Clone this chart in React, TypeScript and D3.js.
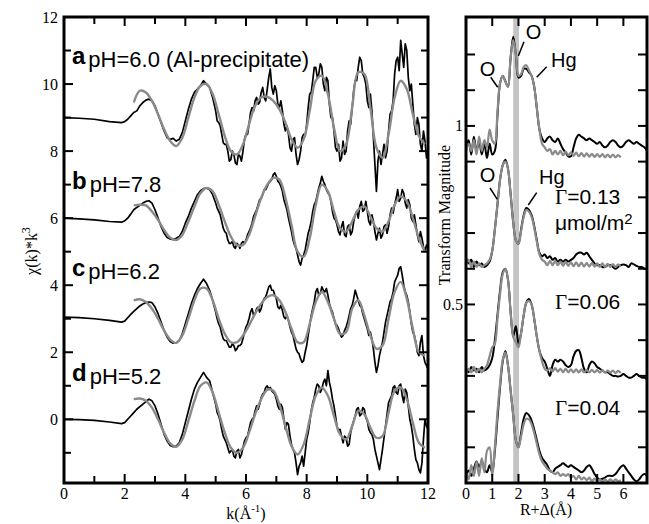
import React from 'react';
import * as d3 from 'd3';

// ---------- Left panel data: chi(k)*k^3 ----------
const kLead = [0, 0.5, 1.0, 1.5, 1.9];
const kBlack = kLead.concat(d3.range(20, 121).map((i) => i / 10));
const kMid = d3.range(0, 70).map((i) => +(5.05 + i * 0.1).toFixed(2));
const kFit = d3.range(0, 49).map((i) => +(2.3 + i * 0.2).toFixed(1));

const dataA = [9.0, 8.98, 8.95, 8.88, 8.85,
  8.88, 8.95, 9.05, 9.15, 9.2, 9.35, 9.45, 9.52, 9.55, 9.5,
  9.35, 9.1, 8.85, 8.6, 8.4, 8.35, 8.38, 8.3, 8.35, 8.55,
  8.9, 9.25, 9.55, 9.75, 9.85, 9.95, 10.1, 10.0, 9.9, 9.6,
  9.2, 8.85, 8.5, 8.2, 8.0, 7.75, 7.9, 7.6, 7.85, 8.0,
  8.5, 8.8, 9.3, 9.5, 9.4, 9.75, 9.6, 9.85, 10.45, 9.7,
  9.8, 9.3, 9.2, 8.6, 8.5, 8.0, 8.4, 7.6, 8.0, 8.5,
  8.8, 9.7, 10.1, 10.5, 10.3, 10.5, 9.8, 10.1, 9.0, 8.6,
  8.0, 7.7, 8.3, 8.0, 8.9, 9.3, 10.1, 10.5, 10.7, 10.2,
  9.5, 9.7, 8.4, 6.8, 8.0, 7.9, 7.8, 8.6, 9.2, 10.3,
  10.8, 11.3, 10.5, 11.0, 9.8, 9.4, 8.5, 8.8, 8.0, 8.3, 7.9];
const midA = [8.9, 8.75, 8.25, 8.2, 7.7, 8.0, 7.65, 7.9, 7.7, 8.35,
  8.5, 9.15, 9.2, 9.6, 9.45, 9.9, 9.5, 10.2, 9.9, 9.95,
  9.4, 9.5, 8.8, 8.75, 8.1, 8.35, 7.9, 7.75, 8.4, 8.45,
  9.3, 9.75, 10.5, 10.2, 10.6, 10.0, 10.2, 9.4, 9.0, 8.1,
  8.2, 7.8, 7.9, 8.6, 8.8, 9.8, 10.1, 10.8, 10.3, 10.0,
  9.3, 9.2, 7.6, 7.7, 7.6, 8.2, 8.0, 9.1, 9.5, 10.7,
  10.4, 10.9, 11.2, 10.2, 10.0, 8.8, 9.0, 8.2, 8.6, 7.8];
const dataB = [6.0, 5.98, 5.95, 5.9, 5.88,
  5.92, 6.0, 6.12, 6.25, 6.32, 6.38, 6.45, 6.5, 6.52, 6.45,
  6.25, 6.0, 5.75, 5.55, 5.42, 5.38, 5.36, 5.4, 5.45, 5.6,
  5.85, 6.05, 6.3, 6.5, 6.7, 6.82, 6.88, 6.9, 6.85, 6.7,
  6.45, 6.2, 5.9, 5.6, 5.35, 5.25, 5.15, 5.25, 5.1, 5.3,
  5.35, 5.6, 5.85, 6.15, 6.4, 6.6, 6.85, 6.95, 7.1, 7.3,
  7.25, 7.05, 6.8, 6.4, 6.0, 5.6, 5.2, 4.9, 4.6, 4.9,
  5.3, 5.7, 6.2, 6.5, 6.9, 7.25, 7.0, 6.75, 6.5, 6.0,
  5.8, 5.5, 5.9, 5.45, 5.8, 5.6, 6.1, 6.0, 6.5, 6.25,
  6.2, 5.8, 5.9, 5.35, 5.7, 5.5, 5.8, 5.75, 6.3, 6.4,
  6.85, 6.6, 6.75, 6.3, 6.4, 5.9, 5.8, 5.3, 5.4, 5.0, 5.1];
const midB = [6.3, 6.1, 5.7, 5.55, 5.25, 5.3, 5.1, 5.2, 5.25, 5.25,
  5.5, 5.7, 6.05, 6.25, 6.55, 6.7, 6.85, 7.05, 7.15, 7.35,
  7.1, 6.95, 6.55, 6.25, 5.8, 5.35, 5.1, 4.7, 4.8, 5.05,
  5.55, 5.9, 6.4, 6.7, 7.05, 7.1, 6.85, 6.7, 6.2, 5.95,
  5.6, 5.75, 5.5, 5.75, 5.5, 5.9, 6.2, 6.35, 6.2, 6.5,
  5.9, 6.1, 5.6, 5.55, 5.4, 5.75, 5.55, 6.1, 6.15, 6.6,
  6.5, 6.85, 6.45, 6.55, 6.0, 6.1, 5.5, 5.6, 5.15, 5.2];
const dataC = [3.05, 3.03, 3.0, 2.95, 2.9,
  2.93, 3.03, 3.13, 3.22, 3.3, 3.38, 3.44, 3.48, 3.5, 3.48,
  3.35, 3.15, 2.9, 2.65, 2.45, 2.32, 2.27, 2.28, 2.35, 2.55,
  2.85, 3.15, 3.45, 3.7, 3.9, 4.05, 4.18, 4.05, 3.85, 3.55,
  3.2, 2.85, 2.55, 2.35, 2.25, 2.15, 2.2, 2.1, 2.2, 2.4,
  2.75, 3.0, 3.3, 3.15, 3.35, 3.3, 3.6, 3.8, 4.0, 3.85,
  3.6, 3.3, 3.25, 3.0, 2.95, 2.6, 2.3, 2.0, 1.8, 1.75,
  2.2, 2.8, 3.3, 3.8, 3.7, 3.95, 3.8, 3.7, 3.3, 3.0,
  2.8, 2.55, 2.5, 2.75, 3.1, 3.4, 3.85, 3.55, 3.35, 3.0,
  2.7, 2.6, 2.1, 1.4, 1.9, 2.3, 2.9, 3.3, 3.6, 4.1,
  4.3, 4.55, 4.0, 3.7, 3.2, 2.6, 2.3, 1.9, 2.5, 1.7, 1.5];
const midC = [3.0, 2.75, 2.4, 2.35, 2.15, 2.25, 2.05, 2.2, 2.25, 2.6,
  2.85, 3.2, 3.1, 3.3, 3.2, 3.5, 3.65, 3.95, 3.85, 3.7,
  3.35, 3.4, 3.05, 3.1, 2.75, 2.5, 2.1, 1.95, 1.7, 2.0,
  2.5, 3.1, 3.5, 3.9, 3.75, 3.85, 3.9, 3.45, 3.2, 2.85,
  2.7, 2.45, 2.65, 2.9, 3.3, 3.6, 3.7, 3.4, 3.15, 2.85,
  2.5, 2.4, 1.7, 1.6, 2.1, 2.6, 3.1, 3.5, 3.8, 4.2,
  4.5, 4.3, 3.8, 3.5, 2.85, 2.5, 2.0, 2.3, 1.9, 1.6];
const dataD = [0.0, -0.01, -0.03, -0.08, -0.13,
  -0.1, 0.0, 0.1, 0.2, 0.3, 0.38, 0.45, 0.53, 0.6, 0.55,
  0.4, 0.15, -0.15, -0.45, -0.65, -0.78, -0.82, -0.8, -0.7, -0.45,
  -0.1, 0.25, 0.6, 0.9, 1.1, 1.25, 1.4, 1.25, 1.15, 0.8,
  0.45, 0.1, -0.3, -0.6, -0.85, -0.95, -1.1, -0.95, -1.15, -0.85,
  -0.55, -0.3, 0.0, 0.25, 0.3, 0.65, 0.8, 1.0, 0.95, 0.8,
  0.6, 0.3, 0.35, -0.3, -0.15, -0.75, -1.0, -1.65, -1.3, -1.4,
  -0.6, -0.1, 0.5, 0.9, 1.0, 0.9, 1.2, 1.45, 0.9, 0.4,
  -0.2, -0.3, -0.7, -0.55, -0.75, -0.2, 0.1, 0.35, 0.15, 0.3,
  -0.05, -0.4, -0.6, -1.1, -1.5, -0.9, -0.2, 0.5, 0.7, 1.0,
  0.75, 1.05, 0.5, 0.8, 0.0, -0.5, -1.2, -1.5, -1.3, 0.0, -0.3];
const midD = [0.2, -0.05, -0.5, -0.7, -1.0, -0.9, -1.15, -0.9, -1.05, -0.65,
  -0.5, -0.1, 0.05, 0.4, 0.45, 0.75, 0.95, 0.9, 0.85, 0.75,
  0.4, 0.45, 0.0, -0.1, -0.5, -0.9, -1.3, -1.4, -1.1, -1.0,
  -0.4, 0.25, 0.65, 1.05, 0.8, 1.1, 1.0, 1.1, 0.6, 0.1,
  -0.35, -0.5, -0.5, -0.8, -0.4, -0.05, 0.3, 0.1, 0.35, 0.05,
  -0.3, -0.45, -0.9, -1.3, -1.2, -0.55, 0.15, 0.6, 0.95, 0.8,
  1.0, 0.7, 0.9, 0.4, -0.2, -0.9, -1.3, -1.6, -0.6, -0.2];

const fitA = [9.45, 9.8, 9.75, 9.5, 9.1, 8.65, 8.3, 8.15, 8.4, 9.0, 9.6, 9.95, 10.0, 9.7,
  9.1, 8.45, 8.0, 7.9, 8.2, 8.8, 9.35, 9.6, 9.62, 9.5, 9.25, 8.85, 8.35, 8.1, 8.35,
  9.2, 10.1, 10.25, 9.7, 8.7, 8.0, 8.2, 9.3, 10.35, 10.3, 9.3, 8.1, 7.8, 8.5, 9.6,
  10.1, 9.85, 9.1, 8.45, 8.2];
const fitB = [6.38, 6.4, 6.38, 6.2, 5.95, 5.65, 5.42, 5.35, 5.5, 5.9, 6.35, 6.75, 6.9, 6.8,
  6.4, 5.9, 5.45, 5.2, 5.2, 5.5, 6.05, 6.6, 7.0, 7.2, 7.15, 6.6, 5.8, 5.0, 4.85,
  5.4, 6.4, 7.0, 6.8, 6.2, 5.7, 5.6, 5.9, 6.25, 6.35, 6.05, 5.7, 5.6, 5.9, 6.4,
  6.65, 6.5, 6.0, 5.4, 5.0];
const fitC = [3.55, 3.58, 3.5, 3.3, 3.0, 2.65, 2.38, 2.28, 2.5, 3.0, 3.55, 3.9, 3.9, 3.55,
  3.0, 2.55, 2.3, 2.3, 2.5, 2.8, 3.15, 3.45, 3.65, 3.7, 3.55, 3.2, 2.7, 2.3, 2.3,
  2.85, 3.5, 3.8, 3.5, 3.0, 2.55, 2.6, 3.3, 3.55, 3.1, 2.5, 2.1, 2.2, 3.0, 3.8,
  4.1, 3.6, 2.7, 2.0, 1.9];
const fitD = [0.6, 0.62, 0.55, 0.35, 0.0, -0.4, -0.72, -0.82, -0.6, -0.05, 0.55, 1.0, 1.1, 0.8,
  0.2, -0.4, -0.85, -1.0, -0.85, -0.4, 0.15, 0.6, 0.88, 0.85, 0.45, -0.2, -0.8, -1.05, -0.75,
  0.0, 0.7, 0.95, 0.7, 0.1, -0.45, -0.6, -0.2, 0.25, 0.15, -0.25, -0.55, -0.5, 0.2, 0.85,
  0.95, 0.6, -0.1, -0.7, -0.85];

const leftLabels = [
  { letter: 'a', text: 'pH=6.0 (Al-precipitate)', y: 64 },
  { letter: 'b', text: 'pH=7.8', y: 189 },
  { letter: 'c', text: 'pH=6.2', y: 276 },
  { letter: 'd', text: 'pH=5.2', y: 381 },
];

// ---------- Right panel data: Fourier transform magnitude ----------
const rBlack = d3.range(0, 70).map((i) => i / 10);
const rFit = d3.range(0, 60).map((i) => i / 10);

const ftTopData = [0.94, 0.96, 0.92, 0.97, 0.93, 0.96, 0.92, 0.95, 0.91, 0.95,
  0.92, 0.93, 1.03, 1.12, 1.14, 1.125, 1.11, 1.19, 1.25, 1.2,
  1.135, 1.14, 1.16, 1.16, 1.15, 1.14, 1.11, 1.05, 0.99, 0.965,
  0.955, 0.965, 0.97, 0.96, 0.955, 0.965, 0.95, 0.935, 0.925, 0.915,
  0.915, 0.94, 0.965, 0.975, 0.97, 0.965, 0.96, 0.965, 0.96, 0.955,
  0.95, 0.955, 0.945, 0.94, 0.945, 0.955, 0.96, 0.955, 0.945, 0.94,
  0.945, 0.955, 0.96, 0.955, 0.95, 0.955, 0.95, 0.945, 0.94, 0.93];
const ftTopFit = [0.93, 0.95, 0.93, 0.96, 0.92, 0.97, 0.93, 0.96, 0.94, 0.99,
  0.96, 0.95, 1.04, 1.12, 1.14, 1.125, 1.11, 1.19, 1.24, 1.2,
  1.14, 1.145, 1.165, 1.17, 1.155, 1.14, 1.11, 1.05, 0.99, 0.95,
  0.94, 0.93, 0.935, 0.92, 0.93, 0.92, 0.93, 0.918, 0.928, 0.918,
  0.926, 0.916, 0.925, 0.915, 0.924, 0.914, 0.923, 0.914, 0.922, 0.913,
  0.921, 0.913, 0.921, 0.912, 0.92, 0.912, 0.92, 0.912, 0.918, 0.912];
const ft013Data = [0.63, 0.615, 0.625, 0.605, 0.62, 0.61, 0.615, 0.605, 0.61, 0.62,
  0.65, 0.71, 0.78, 0.85, 0.89, 0.905, 0.88, 0.81, 0.73, 0.68,
  0.67, 0.71, 0.75, 0.77, 0.765, 0.75, 0.72, 0.68, 0.645, 0.635,
  0.64, 0.63, 0.635, 0.625, 0.63, 0.62, 0.625, 0.62, 0.625, 0.62,
  0.625, 0.63, 0.64, 0.645, 0.645, 0.64, 0.645, 0.635, 0.625, 0.615,
  0.61, 0.61, 0.605, 0.605, 0.61, 0.61, 0.605, 0.6, 0.605, 0.61,
  0.612, 0.61, 0.605, 0.615, 0.612, 0.608, 0.605, 0.605, 0.6, 0.6];
const ft013Fit = [0.615, 0.625, 0.605, 0.62, 0.605, 0.615, 0.605, 0.61, 0.615, 0.625,
  0.65, 0.71, 0.78, 0.85, 0.89, 0.9, 0.88, 0.81, 0.73, 0.68,
  0.67, 0.705, 0.745, 0.765, 0.76, 0.745, 0.715, 0.675, 0.64, 0.625,
  0.62, 0.61, 0.622, 0.61, 0.622, 0.61, 0.62, 0.608, 0.62, 0.608,
  0.618, 0.607, 0.618, 0.607, 0.617, 0.606, 0.616, 0.606, 0.616, 0.606,
  0.615, 0.605, 0.615, 0.605, 0.614, 0.605, 0.613, 0.605, 0.612, 0.605];
const ft006Data = [0.32, 0.31, 0.325, 0.315, 0.32, 0.31, 0.325, 0.315, 0.32, 0.33,
  0.35, 0.4, 0.47, 0.54, 0.59, 0.6, 0.57, 0.48, 0.41, 0.44,
  0.39, 0.42, 0.47, 0.505, 0.515, 0.5, 0.46, 0.41, 0.37, 0.35,
  0.34, 0.32, 0.3, 0.33, 0.345, 0.34, 0.345, 0.34, 0.33, 0.325,
  0.33, 0.355, 0.37, 0.372, 0.35, 0.32, 0.31, 0.33, 0.34, 0.335,
  0.325, 0.32, 0.315, 0.31, 0.31, 0.305, 0.3, 0.3, 0.298, 0.3,
  0.305, 0.3, 0.295, 0.295, 0.3, 0.305, 0.3, 0.295, 0.295, 0.29];
const ft006Fit = [0.31, 0.32, 0.31, 0.325, 0.31, 0.32, 0.31, 0.32, 0.33, 0.355,
  0.38, 0.39, 0.46, 0.53, 0.585, 0.6, 0.57, 0.48, 0.41, 0.395,
  0.38, 0.42, 0.47, 0.505, 0.51, 0.5, 0.46, 0.41, 0.37, 0.34,
  0.32, 0.315, 0.322, 0.312, 0.322, 0.312, 0.32, 0.31, 0.32, 0.31,
  0.318, 0.31, 0.318, 0.31, 0.318, 0.31, 0.317, 0.31, 0.317, 0.31,
  0.316, 0.309, 0.316, 0.309, 0.315, 0.309, 0.315, 0.308, 0.314, 0.308];
const ft004Data = [0.02, 0.035, 0.02, 0.04, 0.06, 0.045, 0.06, 0.04, 0.03, 0.05,
  0.03, 0.09, 0.18, 0.27, 0.34, 0.37, 0.33, 0.26, 0.19, 0.12,
  0.1, 0.14, 0.18, 0.196, 0.19, 0.175, 0.15, 0.12, 0.09, 0.07,
  0.06, 0.05, 0.035, 0.03, 0.04, 0.045, 0.05, 0.055, 0.05, 0.045,
  0.05, 0.045, 0.04, 0.035, 0.03, 0.035, 0.045, 0.05, 0.04, 0.025,
  0.015, 0.01, 0.012, 0.015, 0.02, 0.02, 0.02, 0.025, 0.035, 0.045,
  0.05, 0.04, 0.03, 0.02, 0.01, 0.005, 0.01, 0.02, 0.025, 0.02];
const ft004Fit = [0.03, 0.01, 0.05, 0.02, 0.06, 0.02, 0.07, 0.03, 0.09, 0.1,
  0.02, 0.1, 0.2, 0.28, 0.345, 0.365, 0.33, 0.26, 0.19, 0.12,
  0.1, 0.13, 0.165, 0.18, 0.178, 0.165, 0.14, 0.11, 0.08, 0.06,
  0.05, 0.04, 0.035, 0.03, 0.025, 0.03, 0.02, 0.025, 0.02, 0.025,
  0.015, 0.02, 0.01, 0.02, 0.01, 0.015, 0.008, 0.015, 0.005, 0.012,
  0.005, 0.01, 0.004, 0.01, 0.004, 0.01, 0.004, 0.01, 0.005, 0.008];

const bandR = [1.8, 2.02];
const gammaLabels = [
  { text: '0.13', y: 204 },
  { text: '0.06', y: 309 },
  { text: '0.04', y: 415 },
];

const SANS = 'Liberation Sans, Arial, Helvetica, sans-serif';
const SERIF = 'Liberation Serif, Times New Roman, serif';
const GRAY = '#8a8a8a';

function mergePoints(vals: number[], mids: number[]): [number, number][] {
  const pts: [number, number][] = kBlack.map((k, i) => [k, vals[i]] as [number, number])
    .concat(kMid.map((k, i) => [k, mids[i]] as [number, number]));
  pts.sort((a, b) => a[0] - b[0]);
  return pts;
}

export default function App() {
  const W = 649, H = 524;
  const top = 17, bottom = 483;
  const xL = d3.scaleLinear().domain([0, 12]).range([64, 428]);
  const yL = d3.scaleLinear().domain([-1.9, 12]).range([bottom, top]);
  const xR = d3.scaleLinear().domain([0, 6.9]).range([466, 647]);
  const yR = d3.scaleLinear().domain([0, 1.305]).range([bottom, top]);

  const lineLB = (pts: [number, number][]) =>
    d3.line<[number, number]>().x((p) => xL(p[0])).y((p) => yL(p[1]))(pts) || '';
  const lineLF = (vals: number[]) =>
    d3.line<number>().x((_, i) => xL(kFit[i])).y((v) => yL(v)).curve(d3.curveCatmullRom)(vals) || '';
  const lineRB = (vals: number[]) =>
    d3.line<number>().x((_, i) => xR(rBlack[i])).y((v) => yR(v)).curve(d3.curveCatmullRom)(vals) || '';
  const lineRF = (vals: number[]) =>
    d3.line<number>().x((_, i) => xR(rFit[i])).y((v) => yR(v)).curve(d3.curveCatmullRom)(vals) || '';

  const leftData = [mergePoints(dataA, midA), mergePoints(dataB, midB), mergePoints(dataC, midC), mergePoints(dataD, midD)];
  const leftFit = [fitA, fitB, fitC, fitD];
  const rightData = [ftTopData, ft013Data, ft006Data, ft004Data];
  const rightFit = [ftTopFit, ft013Fit, ft006Fit, ft004Fit];

  const kTicks = d3.range(0, 13);
  const yTicksL = d3.range(-1, 13);
  const rTicks = d3.range(1, 7);
  const yTicksR = d3.range(1, 13).map((i) => i / 10);

  return (
    <svg width={W} height={H} style={{ position: 'absolute', left: 0, top: 0, background: '#fff' }}>
      <defs>
        <clipPath id="clipL"><rect x={64} y={top} width={364} height={bottom - top} /></clipPath>
        <clipPath id="clipR"><rect x={466} y={top} width={181} height={bottom - top} /></clipPath>
      </defs>

      {/* LEFT PANEL */}
      <g clipPath="url(#clipL)">
        {leftData.map((d, i) => (
          <path key={'lb' + i} d={lineLB(d)} fill="none" stroke="#000" strokeWidth={1.7} strokeLinejoin="round" />
        ))}
        {leftFit.map((d, i) => (
          <path key={'lf' + i} d={lineLF(d)} fill="none" stroke={GRAY} strokeWidth={2.4} />
        ))}
      </g>
      {kTicks.map((k) => {
        const len = k % 2 === 0 ? 9 : 7;
        return (
          <g key={'kt' + k}>
            <line x1={xL(k)} x2={xL(k)} y1={bottom} y2={bottom - len} stroke="#000" strokeWidth={2} />
            <line x1={xL(k)} x2={xL(k)} y1={top} y2={top + len} stroke="#000" strokeWidth={2} />
            {k % 2 === 0 && (
              <text x={xL(k)} y={499} textAnchor="middle" fontFamily={SERIF} fontSize={16}>{k}</text>
            )}
          </g>
        );
      })}
      {yTicksL.map((v) => {
        const len = v % 2 === 0 ? 9 : 7;
        return (
          <g key={'yt' + v}>
            <line x1={64} x2={64 + len} y1={yL(v)} y2={yL(v)} stroke="#000" strokeWidth={2} />
            <line x1={428} x2={428 - len} y1={yL(v)} y2={yL(v)} stroke="#000" strokeWidth={2} />
            {v % 2 === 0 && (
              <text x={58} y={yL(v) + 5.5} textAnchor="end" fontFamily={SERIF} fontSize={16}>{v}</text>
            )}
          </g>
        );
      })}
      <rect x={64} y={top} width={364} height={bottom - top} fill="none" stroke="#000" strokeWidth={3} />
      {leftLabels.map((l) => (
        <text key={l.letter} x={72} y={l.y} fontFamily={SANS}>
          <tspan fontWeight="bold" fontSize={24}>{l.letter}</tspan>
          <tspan fontSize={22} dx={3} dy={3}>{l.text}</tspan>
        </text>
      ))}
      <text transform="translate(37,251) rotate(-90)" textAnchor="middle" fontFamily={SERIF} fontSize={16}>
        χ(k)*k<tspan dy={-7} fontSize={12}>3</tspan>
      </text>
      <text x={246} y={519} textAnchor="middle" fontFamily={SERIF} fontSize={16}>
        k(Å<tspan dy={-7} fontSize={11}>-1</tspan><tspan dy={7}>)</tspan>
      </text>

      {/* RIGHT PANEL */}
      <rect x={xR(bandR[0])} y={top} width={xR(bandR[1]) - xR(bandR[0])} height={bottom - top} fill="#c4c4c4" />
      <g clipPath="url(#clipR)">
        {rightData.map((d, i) => (
          <path key={'rb' + i} d={lineRB(d)} fill="none" stroke="#000" strokeWidth={2} strokeLinejoin="round" />
        ))}
        {rightFit.map((d, i) => (
          <path key={'rf' + i} d={lineRF(d)} fill="none" stroke={GRAY} strokeWidth={2.2} />
        ))}
      </g>
      {rTicks.map((r) => (
        <g key={'rt' + r}>
          <line x1={xR(r)} x2={xR(r)} y1={bottom} y2={bottom - 9} stroke="#000" strokeWidth={2} />
          <line x1={xR(r)} x2={xR(r)} y1={top} y2={top + 9} stroke="#000" strokeWidth={2} />
        </g>
      ))}
      {d3.range(0, 7).map((r) => (
        <text key={'rl' + r} x={xR(r)} y={499} textAnchor="middle" fontFamily={SERIF} fontSize={16}>{r}</text>
      ))}
      {yTicksR.map((v) => (
        <g key={'ytr' + v}>
          <line x1={466} x2={475} y1={yR(v)} y2={yR(v)} stroke="#000" strokeWidth={2} />
          <line x1={647} x2={638} y1={yR(v)} y2={yR(v)} stroke="#000" strokeWidth={2} />
        </g>
      ))}
      <text x={463} y={yR(1) + 5.5} textAnchor="end" fontFamily={SERIF} fontSize={16}>1</text>
      <text x={463} y={yR(0.5) + 5.5} textAnchor="end" fontFamily={SERIF} fontSize={16}>0.5</text>
      <rect x={466} y={top} width={181} height={bottom - top} fill="none" stroke="#000" strokeWidth={3} />

      {/* annotations */}
      <g fontFamily={SANS} fontSize={20}>
        <text x={487.5} y={76} textAnchor="middle">O</text>
        <line x1={490.7} y1={77.3} x2={497.7} y2={87.3} stroke="#000" strokeWidth={1.5} />
        <text x={533.5} y={39} textAnchor="middle">O</text>
        <line x1={524} y1={41.7} x2={518.3} y2={56} stroke="#000" strokeWidth={1.5} />
        <text x={551} y={67}>Hg</text>
        <line x1={546.7} y1={66.7} x2={536.7} y2={77.3} stroke="#000" strokeWidth={1.5} />
        <text x={487.5} y={182} textAnchor="middle">O</text>
        <line x1={490} y1={188} x2={497.3} y2={199.3} stroke="#000" strokeWidth={1.5} />
        <text x={539} y={184}>Hg</text>
        <line x1={536.7} y1={192.7} x2={528.3} y2={205} stroke="#000" strokeWidth={1.5} />
      </g>
      {gammaLabels.map((g) => (
        <text key={g.text} x={555} y={g.y} fontSize={21}>
          <tspan fontFamily={SERIF}>Γ</tspan>
          <tspan fontFamily={SANS}>={g.text}</tspan>
        </text>
      ))}
      <text x={555} y={230} fontFamily={SANS} fontSize={21}>
        μmol/m<tspan fontSize={15} dy={-6}>2</tspan>
      </text>
      <text transform="translate(450,215) rotate(-90)" textAnchor="middle" fontFamily={SERIF} fontSize={16}>
        Transform Magnitude
      </text>
      <text x={546} y={515} textAnchor="middle" fontFamily={SERIF} fontSize={16}>R+Δ(Å)</text>
    </svg>
  );
}
